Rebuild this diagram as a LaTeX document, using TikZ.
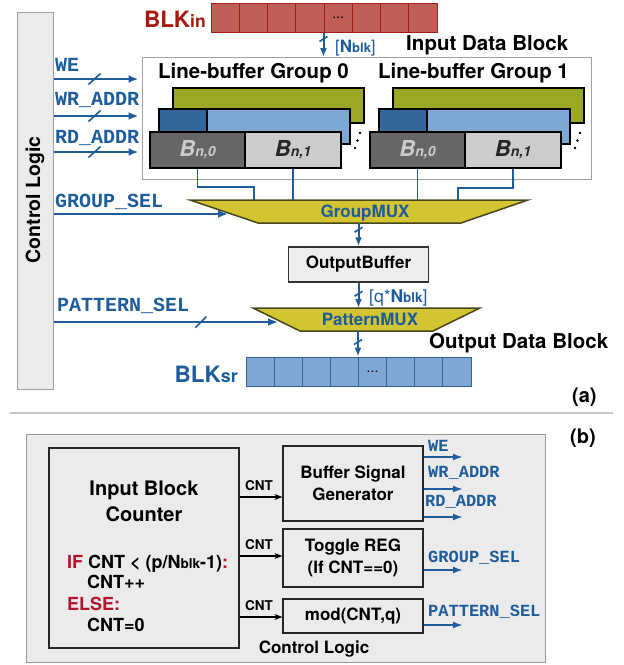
\documentclass[tikz,border=0pt]{standalone}
\usepackage{fontspec}
\setmainfont{TeX Gyre Heros}
\setmonofont{Liberation Mono}
\usetikzlibrary{arrows.meta,calc}

\definecolor{sigblue}{RGB}{30,92,155}
\definecolor{blkred}{RGB}{165,25,15}
\definecolor{redfill}{RGB}{192,94,88}
\definecolor{redline}{RGB}{160,30,20}
\definecolor{srfill}{RGB}{126,167,211}
\definecolor{srline}{RGB}{50,98,150}
\definecolor{grn}{RGB}{154,168,38}
\definecolor{dblue}{RGB}{51,102,153}
\definecolor{lblue}{RGB}{126,168,212}
\definecolor{dgray}{RGB}{102,102,102}
\definecolor{lgray}{RGB}{204,204,204}
\definecolor{muxfill}{RGB}{211,196,49}
\definecolor{muxline}{RGB}{70,70,30}
\definecolor{panelgray}{RGB}{235,235,235}
\definecolor{ctrlgray}{RGB}{160,160,160}
\definecolor{ifred}{RGB}{178,21,46}

\newcommand{\fsz}[2]{\fontsize{#1}{#2}\selectfont}

\tikzset{
  ctrlbar/.style={draw=ctrlgray, fill=panelgray, line width=1pt, inner sep=0},
  hdr/.style={font=\bfseries\fsz{20.5}{24}, inner sep=0, anchor=base},
  sig/.style={draw=sigblue, line width=2pt, -{Latex[length=10pt,width=8pt]}},
  busv/.style={draw=sigblue, line width=2pt, -{Latex[length=9pt,width=7pt]}},
  busmark/.style={draw=sigblue, line width=1.6pt},
  wire/.style={draw=sigblue, line width=1.3pt},
  ttlbl/.style={text=sigblue, font=\ttfamily\bfseries\fsz{20}{21}, anchor=base west, inner sep=0},
  ttlblb/.style={text=sigblue, font=\ttfamily\bfseries\fsz{17}{18}, anchor=base west, inner sep=0},
  incell/.style={draw=redline, fill=redfill, line width=1pt, minimum width=28.25, minimum height=29, inner sep=0},
  srcell/.style={draw=srline, fill=srfill, line width=1pt, minimum width=28.125, minimum height=29, inner sep=0},
  lbframe/.style={draw=ctrlgray, fill=white, line width=1pt, inner sep=0},
  bufbar/.style={draw=black, line width=2pt, minimum height=35, inner sep=0},
  bsub/.style={bufbar, minimum height=36, font=\bfseries\itshape},
  muxshape/.style={draw=muxline, fill=muxfill, line width=1.5pt, line join=miter},
  muxlbl/.style={text=sigblue, font=\bfseries\fsz{17}{18}, inner sep=0, anchor=base},
  obox/.style={draw=black!80, fill=black!7, line width=1.5pt, inner sep=0, font=\bfseries\fsz{17}{20}},
  panel/.style={draw=black!40, fill=panelgray, line width=1pt, inner sep=0},
  cbox/.style={draw=black!85, fill=panelgray, line width=1.2pt, inner sep=0, align=center, font=\bfseries\fsz{17}{22}},
  codeln/.style={font=\bfseries\fsz{18}{20}, anchor=base west, inner sep=0},
  cntarrow/.style={draw=black, line width=1.2pt, -{Stealth[length=8pt,width=6pt]}},
  cntlbl/.style={font=\bfseries\fsz{13.5}{14}, anchor=base, inner sep=0},
  sigb/.style={draw=sigblue, line width=2pt, -{Latex[length=10pt,width=7pt]}},
}

\begin{document}
\begin{tikzpicture}[x=1pt,y=-1pt]
\useasboundingbox (0,0) rectangle (624,665);

% ---------------- (a) datapath ----------------
% control logic bar
\node[ctrlbar, minimum width=36, minimum height=377] (ctrl) at (35,200.5) {};
\node[rotate=90, font=\bfseries\fsz{19.5}{22}, inner sep=0] (ctrltxt) at (35,200) {Control Logic};

% input data block
\foreach \i in {0,...,7}
  \node[incell] (in\i) at ({211+28.25*\i+14.125},17.5) {};
\node[font=\fsz{14}{14}, inner sep=0] (indots) at (in4) {...};
\node[anchor=base east, text=blkred, inner sep=0, font=\bfseries] (blkin) at (206,27) {\fsz{22.5}{22}BLK\fsz{17.5}{17}in};
\node[anchor=base west, text=sigblue, inner sep=0] (nblk) at (335,52) {\fsz{17}{17}[\textbf{N\fsz{13}{13}blk}]};
\node[hdr, anchor=base west] (idb) at (406,50) {Input Data Block};
\draw[busv] (in4.south west) -- (in4.south west |- 0,57);
\draw[busmark] (in4.south west) ++(-4,9) -- ++(8,-5);

% line-buffer groups
\node[lbframe, minimum width=449, minimum height=122] (lbbox) at (366.5,118) {};
\node[hdr] (lbg0) at (253.5,78) {Line-buffer Group 0};
\node[hdr] (lbg1) at (473.5,78) {Line-buffer Group 1};

\foreach \g/\dx in {0/0,1/220} {
  \node[bufbar, fill=grn, minimum width=191] (g\g gr) at (268.5+\dx,105.5) {};
  \node[bufbar, fill=dblue, minimum width=48] (g\g bd) at (183+\dx,126.5) {};
  \node[bufbar, fill=lblue, minimum width=143] (g\g bl) at (278.5+\dx,126.5) {};
  \node[bsub, fill=dgray, text=lgray, minimum width=95] (g\g b0) at (197.5+\dx,150)
    {\fsz{22}{22}B\fsz{14}{14}n,0};
  \node[bsub, fill=lgray, text=black!85, minimum width=96] (g\g b1) at (293+\dx,150)
    {\fsz{22}{22}B\fsz{14}{14}n,1};
  \fill (360+\dx,133) circle (1.4) (357.5+\dx,140.5) circle (1.4) (355+\dx,148) circle (1.4);
}

% write-side control signals
\coordinate (weIn) at (142,79);
\coordinate (wrIn) at (142,116);
\coordinate (rdIn) at (142,152);
\foreach \c in {weIn,wrIn,rdIn} {
  \draw[sig, shorten >=3pt] (ctrl.east |- \c) -- (lbbox.west |- \c);
  \draw[busmark] (ctrl.east |- \c) ++(35,5.5) -- ++(12,-11);
}
\node[ttlbl] (lwe) at (55,71) {WE};
\node[ttlbl] (lwr) at (55,105) {WR\_ADDR};
\node[ttlbl] (lrd) at (55,143) {RD\_ADDR};

% group multiplexer
\coordinate (gmTL) at (190,200);
\coordinate (gmTR) at (528,200);
\coordinate (gmBR) at (461,223);
\coordinate (gmBL) at (258,223);
\draw[muxshape] (gmTL) -- (gmTR) -- (gmBR) -- (gmBL) -- cycle;
\node[muxlbl] (gmux) at (365,217) {GroupMUX};

\coordinate (gmIn1) at (254,200);
\coordinate (gmIn4) at (458,200);
\draw[wire] (g0b0.south) -- ++(0,18) -| (gmIn1);
\draw[wire] (g0b1.south) -- (g0b1.south |- gmTL);
\draw[wire] (g1b0.south) -- (g1b0.south |- gmTL);
\draw[wire] (g1b1.south) -- ++(0,19) -| (gmIn4);

\coordinate (gsIn) at (228,214);
\draw[sig] (ctrl.east |- gsIn) -- (gsIn);
\node[ttlbl] (lgs) at (55,207) {GROUP\_SEL};

% output buffer
\node[obox, minimum width=140, minimum height=35] (obuf) at (358.5,264.5) {OutputBuffer};
\draw[busv] (obuf.north |- gmBL) -- (obuf.north);
\draw[busmark] (obuf.north) ++(-4,-14) -- ++(8,-5);

% pattern multiplexer
\coordinate (pmTL) at (253,308);
\coordinate (pmTR) at (480,308);
\coordinate (pmBR) at (433,331);
\coordinate (pmBL) at (300,331);
\draw[muxshape] (pmTL) -- (pmTR) -- (pmBR) -- (pmBL) -- cycle;
\node[muxlbl] (pmux) at (370,325) {PatternMUX};

\draw[busv] (obuf.south) -- (obuf.south |- pmTL);
\draw[busmark] (obuf.south) ++(-4,13.5) -- ++(8,-5);
\node[anchor=base west, text=sigblue, inner sep=0] (qnblk) at (369,302) {\fsz{17.5}{17}[q*\textbf{N\fsz{13.5}{13}blk}]};

\coordinate (psIn) at (278,322);
\draw[sig] (ctrl.east |- psIn) -- (psIn);
\draw[busmark] (ctrl.east |- psIn) ++(142,5.5) -- ++(11,-11);
\node[ttlbl] (lps) at (57,311) {PATTERN\_SEL};

% output data block
\foreach \i in {0,...,7}
  \node[srcell] (sr\i) at ({246+28.125*\i+14.0625},371.5) {};
\node[font=\fsz{14}{14}, inner sep=0] (srdots) at (sr4) {...};
\draw[busv] (sr4.north west |- pmBL) -- (sr4.north west);
\draw[busmark] (sr4.north west) ++(-4,-12) -- ++(8,-5);
\node[anchor=base east, text=sigblue, inner sep=0, font=\bfseries] (blksr) at (238,382) {\fsz{22.5}{22}BLK\fsz{18}{18}sr};
\node[hdr, anchor=base west] (odb) at (429,348) {Output Data Block};

\node[hdr, anchor=base west, font=\bfseries\fsz{20}{22}] (tagA) at (572,402) {(a)};

% separator
\draw[draw=black!22, line width=1.5pt] (10,413) -- (613,413);

% ---------------- (b) control logic ----------------
\node[hdr, anchor=base west, font=\bfseries\fsz{20}{22}] (tagB) at (570,443) {(b)};
\node[panel, minimum width=519, minimum height=228] (clpanel) at (285.5,548) {};

\node[cbox, minimum width=190, minimum height=200] (ibc) at (144,548) {};
\node[font=\bfseries\fsz{20}{22}, anchor=base, inner sep=0] (ibt1) at (144,495) {Input Block};
\node[font=\bfseries\fsz{20}{22}, anchor=base, inner sep=0] (ibt2) at (144,521) {Counter};
\node[codeln] (cl1) at (67,568) {{\color{ifred}IF} CNT < (p/N{\fsz{13.5}{13}blk}-1){\color{ifred}:}};
\node[codeln] (cl2) at (87,588) {CNT++};
\node[codeln, text=ifred] (cl3) at (67,610) {ELSE:};
\node[codeln] (cl4) at (87,631) {CNT=0};

\node[cbox, minimum width=140, minimum height=75] (bsg) at (353,483.5) {Buffer Signal\\Generator};
\node[cbox, minimum width=140, minimum height=58] (tog) at (353,558) {Toggle REG\\(If CNT==0)};
\node[cbox, minimum width=140, minimum height=34] (modb) at (353,616) {mod(CNT,q)};
\node[font=\bfseries\fsz{17}{20}, anchor=base, inner sep=0] (cltitle) at (314,653) {Control Logic};

% counter value to each unit
\coordinate (cnt1) at (0,497);
\coordinate (cnt2) at (0,556);
\coordinate (cnt3) at (0,617);
\draw[cntarrow] (ibc.east |- cnt1) -- (bsg.west |- cnt1);
\draw[cntarrow] (ibc.east |- cnt2) -- (tog.west |- cnt2);
\draw[cntarrow] (ibc.east |- cnt3) -- (modb.west |- cnt3);
\node[cntlbl] (cn1) at (259,490) {CNT};
\node[cntlbl] (cn2) at (259,549) {CNT};
\node[cntlbl] (cn3) at (259,610) {CNT};

% generated control signals
\coordinate (oWE) at (463,457);
\coordinate (oWR) at (463,489);
\coordinate (oRD) at (463,517);
\coordinate (oGS) at (463,570);
\coordinate (oPS) at (463,625);
\draw[sigb] (bsg.east |- oWE) -- (oWE);
\draw[sigb] (bsg.east |- oWR) -- (oWR);
\draw[sigb] (bsg.east |- oRD) -- (oRD);
\draw[sigb] (tog.east |- oGS) -- (oGS);
\draw[sigb] (modb.east |- oPS) -- (oPS);
\node[ttlblb] (bwe) at (428,451) {WE};
\node[ttlblb] (bwr) at (428,477) {WR\_ADDR};
\node[ttlblb] (brd) at (425,506) {RD\_ADDR};
\node[ttlblb] (bgs) at (428,562) {GROUP\_SEL};
\node[ttlblb] (bps) at (428,616) {PATTERN\_SEL};
\end{tikzpicture}
\end{document}
